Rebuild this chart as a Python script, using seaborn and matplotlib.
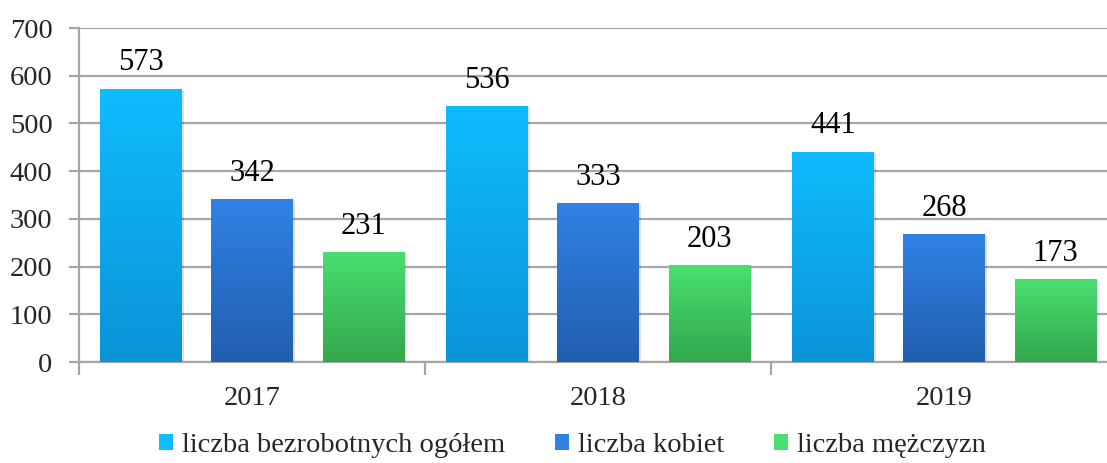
import numpy as np
import pandas as pd
import matplotlib
matplotlib.use("Agg")
import matplotlib.pyplot as plt
import matplotlib.patches as mpatches
from matplotlib.colors import LinearSegmentedColormap
import seaborn as sns

# data
years = ["2017", "2018", "2019"]
series = ["liczba bezrobotnych ogółem", "liczba kobiet", "liczba mężczyzn"]
ogolem = [573, 536, 441]
kobiety = [342, 333, 268]
mezczyzni = [231, 203, 173]

# gradient colours (top, bottom) per series
top_cols = ["#0fbcfe", "#2f82e4", "#49df70"]
bot_cols = ["#0a94d6", "#225eae", "#33a74d"]

df = pd.DataFrame({
    "Rok": years * 3,
    "Seria": [s for s in series for _ in years],
    "Wartość": ogolem + kobiety + mezczyzni,
})

sns.set_style("white")
plt.rcParams["font.family"] = ["Liberation Serif", "DejaVu Serif"]

fig = plt.figure(figsize=(11.07, 4.63), dpi=100)
ax = fig.add_axes([79 / 1107, 1 - 362 / 463, 1038 / 1107, (362 - 28) / 463])

sns.barplot(data=df, x="Rok", y="Wartość", hue="Seria", hue_order=series,
            palette=top_cols, width=0.963, gap=0.27, ax=ax, legend=False,
            zorder=3)

ax.set_ylim(0, 700)
ax.set_xlim(-0.5, 2.5)
ax.set_yticks(range(0, 701, 100))
ax.yaxis.grid(True, color="#a6a6a6", linewidth=1.6, zorder=0)
ax.set_axisbelow(True)
ax.set_xlabel("")
ax.set_ylabel("")

# replace flat fills by vertical gradients
for container, c_top, c_bot in zip(ax.containers, top_cols, bot_cols):
    cmap = LinearSegmentedColormap.from_list("g", [c_bot, c_top])
    grad = np.linspace(0, 1, 256).reshape(-1, 1)
    for bar in container:
        x0, w, h = bar.get_x(), bar.get_width(), bar.get_height()
        # soft shadow
        sh = mpatches.Rectangle((x0 + 0.006, -2), w, h, facecolor="#000000",
                                alpha=0.12, edgecolor="none", zorder=2)
        ax.add_patch(sh)
        img = ax.imshow(grad, cmap=cmap, origin="lower", aspect="auto",
                        extent=[x0, x0 + w, 0, h], zorder=3)
        img.set_clip_path(bar)
        bar.set_facecolor("none")
        bar.set_edgecolor("none")
    ax.bar_label(container, padding=8, fontsize=22, color="black")

ax.set_xlim(-0.5, 2.5)
ax.set_ylim(0, 700)

for side in ["top", "right"]:
    ax.spines[side].set_visible(False)
for side in ["left", "bottom"]:
    ax.spines[side].set_color("#a6a6a6")
    ax.spines[side].set_linewidth(1.6)

ax.tick_params(axis="y", labelsize=20.5, length=7, width=1.6, color="#a6a6a6",
               left=True, pad=12)
ax.tick_params(axis="x", labelsize=20.5, length=0, pad=17)
ax.set_xticks([-0.5, 0.5, 1.5], minor=True)
ax.tick_params(axis="x", which="minor", length=9, width=1.6, color="#a6a6a6",
               bottom=True)

handles = [mpatches.Patch(facecolor=c, edgecolor="none") for c in top_cols]
fig.legend(handles, series, loc="lower center", bbox_to_anchor=(0.517, -0.045),
           ncol=3, frameon=False, fontsize=20.5, handlelength=0.5,
           handleheight=0.5, handletextpad=0.3, columnspacing=1.75)

fig.savefig("out.png", dpi=100)
